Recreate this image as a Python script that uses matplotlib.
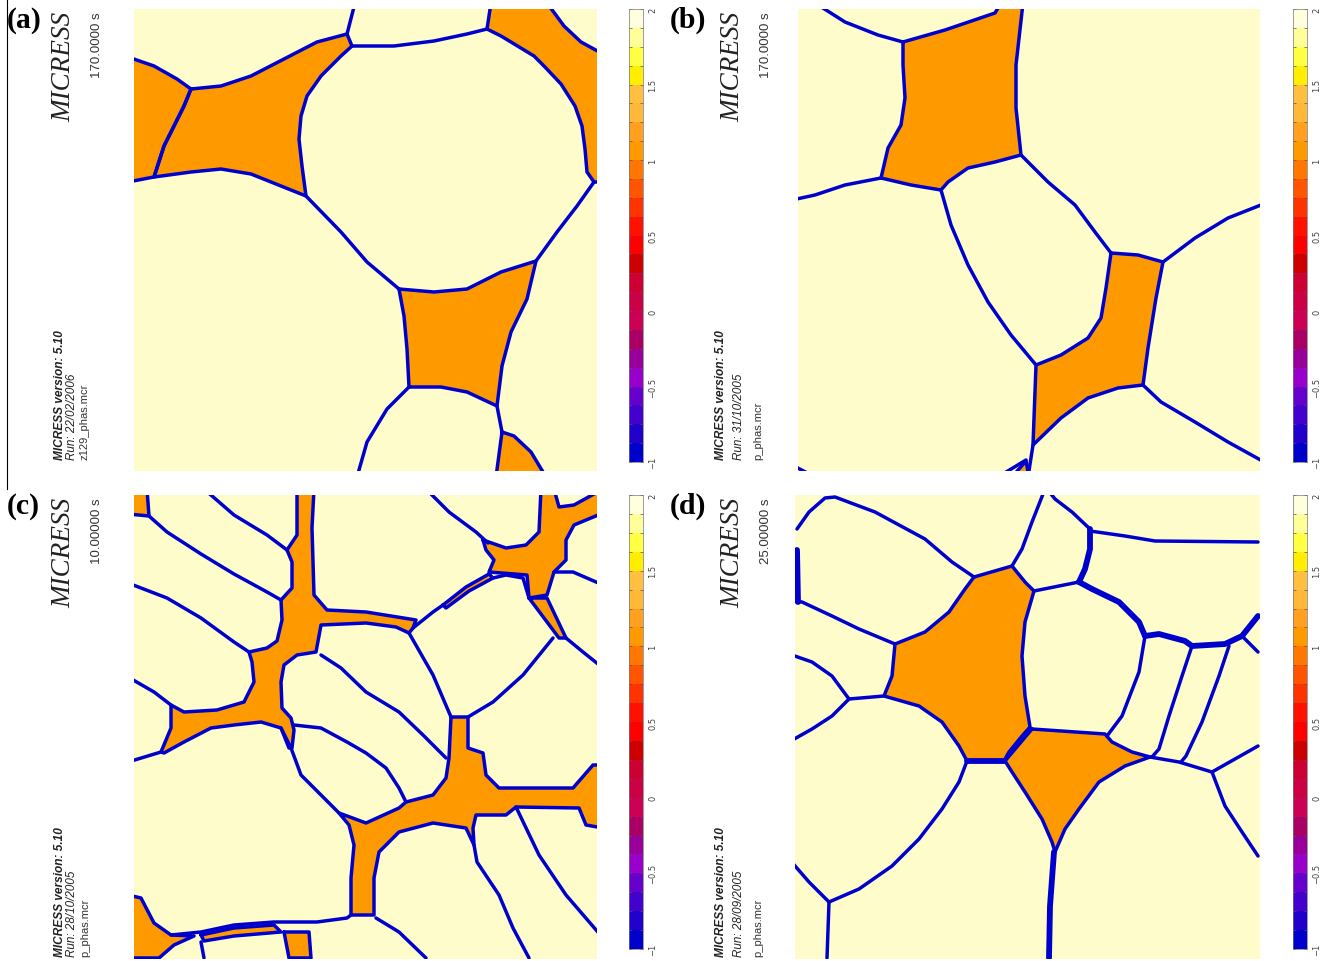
import numpy as np
import matplotlib
matplotlib.use('Agg')
from matplotlib import pyplot as plt
from matplotlib.colors import ListedColormap, BoundaryNorm
from matplotlib.colorbar import ColorbarBase
from matplotlib.lines import Line2D

W, H = 1325, 962

# panel texts
labels = ['(a)', '(b)', '(c)', '(d)']
times = ['170.0000 s', '170.0000 s', '10.00000 s', '25.00000 s']
run_dates = ['22/02/2006', '31/10/2005', '28/10/2005', '28/09/2005']
files = ['z129_phas.mcr', 'p_phas.mcr', 'p_phas.mcr', 'p_phas.mcr']
version = '5.10'

# colour scale
cb_levels = np.linspace(-1, 2, 25)
cb_ticks = [-1, -0.5, 0, 0.5, 1, 1.5, 2]
cb_colors = ['#0000cc', '#2200cc', '#4400cc', '#6600cc', '#9900cc', '#990099',
             '#aa0066', '#cc0055', '#cc0044', '#cc0033', '#cc0000', '#ff0000',
             '#ff1100', '#ff3300', '#ff5500', '#ff7700', '#ff9900', '#ffa020',
             '#ffb838', '#ffc040', '#ffee00', '#ffff44', '#ffff99', '#ffffdd']

# ---- panel (a): liquid pockets and grain boundaries, image pixels ----
a_liquid = [
    [(0, 48), (20, 57), (43, 70), (57, 80), (50, 97), (40, 117), (30, 137), (20, 168), (0, 173)],
    [(57, 80), (87, 77), (117, 67), (150, 50), (183, 33), (213, 25), (218, 37), (207, 47), (187, 67),
     (173, 87), (167, 107), (165, 130), (168, 157), (172, 187), (147, 177), (117, 165), (87, 160),
     (57, 163), (20, 168), (30, 137), (40, 117), (50, 97)],
    [(357, 0), (413, 0), (430, 17), (447, 33), (463, 45), (463, 173), (460, 173), (453, 163), (451, 140),
     (448, 117), (441, 97), (427, 75), (410, 57), (400, 47), (367, 27), (353, 20)],
    [(265, 280), (300, 283), (333, 280), (367, 263), (402, 252), (393, 290), (377, 323), (368, 357),
     (363, 397), (333, 383), (307, 378), (275, 378), (273, 340), (270, 307)],
    [(368, 423), (380, 427), (397, 443), (412, 463), (362, 463)],
]
a_lines = [
    [(221, 0), (213, 25)],
    [(218, 37), (260, 37), (300, 32), (333, 25), (353, 20)],
    [(460, 173), (443, 197), (423, 223), (402, 252)],
    [(265, 280), (233, 253), (207, 223), (172, 187)],
    [(275, 378), (253, 400), (233, 433), (223, 463)],
    [(363, 397), (368, 423)],
]
a_thick = []

# ---- panel (b) ----
b_liquid = [
    [(105, 33), (147, 21), (197, 4), (203, 0), (225, 0), (218, 56), (218, 99), (223, 146), (197, 153),
     (170, 159), (150, 173), (143, 181), (113, 176), (83, 169), (90, 139), (103, 116), (107, 89), (105, 56)],
    [(313, 244), (340, 246), (365, 253), (358, 289), (350, 339), (345, 376), (320, 379), (290, 389),
     (263, 409), (235, 436), (238, 356), (263, 346), (290, 329), (303, 309), (308, 279)],
    [(214, 463), (228, 452), (231, 463)],
]
b_lines = [
    [(17, 0), (47, 13), (80, 26), (105, 33)],
    [(83, 169), (47, 176), (17, 186), (0, 191)],
    [(143, 181), (153, 216), (170, 256), (190, 293), (213, 326), (238, 356)],
    [(223, 146), (250, 173), (277, 196), (297, 223), (313, 244)],
    [(365, 253), (397, 229), (430, 209), (463, 194)],
    [(345, 376), (363, 393), (397, 413), (430, 433), (463, 454)],
    [(235, 436), (230, 463)],
    [(0, 456), (17, 463)],
    [(200, 463), (228, 451)],
]
b_thick = []

# ---- panel (c) ----
c_liquid = [
    [(165, 0), (180, 0), (178, 33), (180, 100), (193, 115), (232, 117), (282, 125), (279, 133), (275, 138),
     (262, 132), (232, 128), (187, 130), (182, 157), (163, 160), (150, 170), (147, 187), (148, 213),
     (157, 223), (160, 235), (158, 253), (155, 253), (147, 233), (127, 227), (100, 230), (77, 233),
     (50, 247), (30, 258), (27, 257), (37, 233), (37, 210), (50, 217), (83, 215), (110, 207), (120, 187),
     (118, 167), (115, 157), (133, 153), (143, 146), (148, 125), (147, 105), (158, 93), (158, 67),
     (153, 55), (163, 40), (163, 0)],
    [(0, 0), (13, 0), (15, 21), (0, 19)],
    [(349, 45), (372, 53), (392, 50), (405, 37), (407, 0), (420, 0), (425, 12), (440, 10), (463, 0),
     (463, 18), (440, 30), (432, 45), (432, 65), (420, 77), (413, 100), (395, 103), (393, 80), (355, 77),
     (360, 65), (352, 55)],
    [(309, 110), (332, 92), (355, 79), (359, 83), (335, 96), (312, 113)],
    [(395, 103), (413, 103), (432, 143), (425, 143)],
    [(317, 222), (334, 222), (334, 253), (349, 258), (352, 280), (365, 293), (439, 293), (459, 270),
     (463, 270), (463, 333), (452, 330), (445, 313), (382, 312), (372, 320), (342, 320), (339, 333),
     (340, 350), (332, 333), (299, 328), (265, 337), (245, 357), (240, 383), (240, 420), (217, 420),
     (217, 383), (220, 350), (215, 330), (205, 318), (232, 328), (265, 313), (272, 307), (299, 300),
     (312, 283), (315, 263)],
    [(0, 400), (7, 403), (20, 428), (37, 440), (60, 441), (40, 450), (25, 463), (0, 463)],
    [(67, 440), (100, 433), (140, 430), (147, 437), (100, 441), (70, 446)],
    [(150, 437), (175, 437), (177, 463), (155, 463)],
]
c_lines = [
    [(292, 0), (315, 17), (342, 37), (354, 48)],
    [(70, 0), (100, 20), (133, 40), (153, 55)],
    [(15, 21), (33, 37), (67, 59), (100, 79), (133, 97), (147, 105)],
    [(0, 88), (33, 103), (67, 123), (100, 147), (115, 157)],
    [(0, 182), (20, 197), (37, 210)],
    [(0, 267), (27, 257)],
    [(187, 160), (207, 173), (232, 197), (265, 217), (289, 240), (312, 263)],
    [(160, 230), (187, 233), (213, 247), (232, 258), (252, 273), (265, 293), (272, 307)],
    [(147, 233), (157, 253), (167, 280), (187, 300), (205, 318)],
    [(275, 138), (299, 180), (317, 222)],
    [(279, 133), (299, 117), (309, 110)],
    [(359, 83), (372, 80), (389, 83), (395, 103)],
    [(419, 143), (389, 180), (359, 207), (334, 222)],
    [(432, 143), (449, 157), (463, 173)],
    [(420, 77), (439, 77), (463, 90)],
    [(37, 440), (67, 437), (100, 430), (140, 427), (183, 427), (213, 423), (217, 420)],
    [(67, 447), (70, 463)],
    [(242, 423), (265, 437), (292, 463)],
    [(340, 350), (343, 367), (365, 400), (379, 433), (395, 463)],
    [(382, 312), (405, 360), (432, 400), (463, 443)],
]
c_thick = []

# ---- panel (d) ----
d_liquid = [
    [(179, 82), (217, 71), (230, 87), (239, 96), (230, 127), (227, 161), (230, 201), (235, 232),
     (227, 241), (214, 257), (209, 266), (172, 266), (164, 251), (147, 227), (124, 211), (89, 201),
     (97, 181), (100, 149), (130, 137), (154, 117), (170, 94)],
    [(237, 234), (310, 239), (317, 247), (337, 257), (355, 262), (330, 271), (304, 287), (284, 314),
     (270, 334), (260, 357), (257, 347), (247, 324), (230, 297), (217, 277), (210, 266)],
]
d_lines = [
    [(2, 34), (14, 17), (30, 3), (40, 2), (80, 17), (130, 44), (157, 67), (179, 82)],
    [(0, 106), (7, 107), (37, 121), (64, 134), (100, 149)],
    [(89, 201), (54, 204)],
    [(0, 159), (17, 167), (37, 181), (54, 204)],
    [(54, 204), (37, 221), (17, 234), (0, 247)],
    [(172, 266), (164, 287), (147, 314), (124, 344), (97, 371), (64, 394), (34, 407)],
    [(0, 364), (14, 387), (34, 407)],
    [(34, 407), (32, 463)],
    [(355, 262), (384, 267), (417, 277)],
    [(417, 277), (440, 264), (463, 251)],
    [(417, 277), (430, 311), (447, 337), (463, 361)],
    [(239, 96), (264, 91), (284, 87)],
    [(350, 141), (344, 177), (327, 221), (312, 241)],
    [(250, 0), (237, 27), (227, 54), (217, 71)],
    [(252, 0), (260, 4), (277, 17), (295, 34)],
    [(295, 36), (330, 41), (360, 46), (463, 47)],
    [(397, 151), (387, 181), (374, 221), (364, 254), (357, 262)],
    [(434, 151), (424, 181), (407, 227), (391, 261), (386, 267)],
    [(447, 141), (463, 157)],
]
d_thick = [
    [(2, 55), (3, 107)],
    [(172, 266), (209, 266)],
    [(259, 357), (255, 411), (254, 463)],
    [(284, 87), (290, 74), (295, 54), (295, 34)],
    [(284, 87), (297, 94), (324, 107), (344, 127), (350, 141)],
    [(350, 141), (364, 139), (390, 146), (397, 151), (430, 149), (447, 141), (463, 121)],
]

panels = [
    ((134, 10, 597, 472), a_liquid, a_lines, a_thick),
    ((798, 10, 1260, 472), b_liquid, b_lines, b_thick),
    ((134, 496, 597, 960), c_liquid, c_lines, c_thick),
    ((795, 496, 1260, 960), d_liquid, d_lines, d_thick),
]
cbar_boxes = [(629, 10, 643, 463), (1293, 10, 1307, 463), (629, 496, 643, 950), (1293, 496, 1307, 950)]
text_x = [(7, 64, 97, 60, 72, 85), (670, 733, 766, 721, 739, 758),
          (7, 64, 97, 60, 72, 85), (670, 733, 766, 721, 739, 758)]
text_bottom = [460, 460, 957, 957]

YELLOW = '#fffccc'
ORANGE = '#ff9900'
BLUE = '#0000cc'


def rect(x0, y0, x1, y1):
    return [x0 / W, 1 - y1 / H, (x1 - x0) / W, (y1 - y0) / H]


def push_out(pts, w, h):
    # points on the frame are moved outside so the frame itself gets no line
    xs = np.array([p[0] for p in pts], float)
    ys = np.array([p[1] for p in pts], float)
    xs = np.where(xs <= 0, -6, np.where(xs >= w, w + 6, xs))
    ys = np.where(ys <= 0, -6, np.where(ys >= h, h + 6, ys))
    return xs, ys


fig = plt.figure(figsize=(W / 100, H / 100), dpi=100)

for (box, liquid, lines, thick) in panels:
    x0, y0, x1, y1 = box
    w, h = x1 - x0, y1 - y0
    ax = fig.add_axes(rect(*box))
    ax.set_xlim(0, w)
    ax.set_ylim(h, 0)
    ax.set_facecolor(YELLOW)
    ax.set_xticks([])
    ax.set_yticks([])
    for s in ax.spines.values():
        s.set_visible(False)
    for poly in liquid:
        xs, ys = push_out(poly, w, h)
        ax.fill(xs, ys, color=ORANGE, lw=0, zorder=1)
        ax.plot(np.append(xs, xs[0]), np.append(ys, ys[0]), color=BLUE, lw=2.5,
                solid_joinstyle='round', solid_capstyle='round', zorder=2)
    for ln in lines:
        xs, ys = push_out(ln, w, h)
        ax.plot(xs, ys, color=BLUE, lw=2.5, solid_joinstyle='round', solid_capstyle='round', zorder=2)
    for ln in thick:
        xs, ys = push_out(ln, w, h)
        ax.plot(xs, ys, color=BLUE, lw=4.2, solid_joinstyle='round', solid_capstyle='round', zorder=2)

cmap = ListedColormap(cb_colors)
norm = BoundaryNorm(cb_levels, cmap.N)
for box in cbar_boxes:
    cax = fig.add_axes(rect(*box))
    cb = ColorbarBase(cax, cmap=cmap, norm=norm, boundaries=cb_levels, ticks=cb_ticks,
                      orientation='vertical')
    cb.outline.set_linewidth(0.5)
    cb.outline.set_edgecolor('#777777')
    cax.yaxis.set_ticks(cb_levels, minor=True)
    cax.tick_params(which='both', direction='in', left=True, right=True, length=2.5,
                    width=0.5, color='#555555', labelsize=6, labelcolor='#444444', pad=4)
    cax.set_yticklabels([f'{t:g}'.replace('-', '\u2212') for t in cb_ticks], rotation=90,
                        va='center')

# annotation texts
for i, box in enumerate(panels):
    x0, y0, x1, y1 = box[0]
    lx, mx, tx, bx1, bx2, bx3 = text_x[i]
    top = y0 + 2
    bottom = text_bottom[i]
    fig.text(lx / W, 1 - (y0 - 3) / H, labels[i], fontsize=21.5, fontweight='bold',
             family='Liberation Serif', ha='left', va='top')
    fig.text(mx / W, 1 - top / H, 'MICRESS', fontsize=19.5, style='italic',
             family='Liberation Serif', rotation=90, ha='center', va='top', color='#222222')
    fig.text(tx / W, 1 - top / H, times[i], fontsize=9.5, family='Liberation Sans',
             rotation=90, ha='center', va='top', color='#333333')
    fig.text(bx1 / W, 1 - bottom / H, 'MICRESS version: ' + version, fontsize=8.6,
             family='Liberation Sans', style='italic', fontweight='bold', rotation=90,
             ha='center', va='bottom', color='#222222')
    fig.text(bx2 / W, 1 - bottom / H, 'Run: ' + run_dates[i], fontsize=8.4,
             family='Liberation Sans', style='italic', rotation=90,
             ha='center', va='bottom', color='#222222')
    fig.text(bx3 / W, 1 - bottom / H, files[i], fontsize=8, family='Liberation Sans',
             rotation=90, ha='center', va='bottom', color='#333333')

fig.add_artist(Line2D([7 / W, 7 / W], [1, 1 - 490 / H], color='black', lw=0.8))

fig.savefig('out.png', dpi=100, facecolor='white')
